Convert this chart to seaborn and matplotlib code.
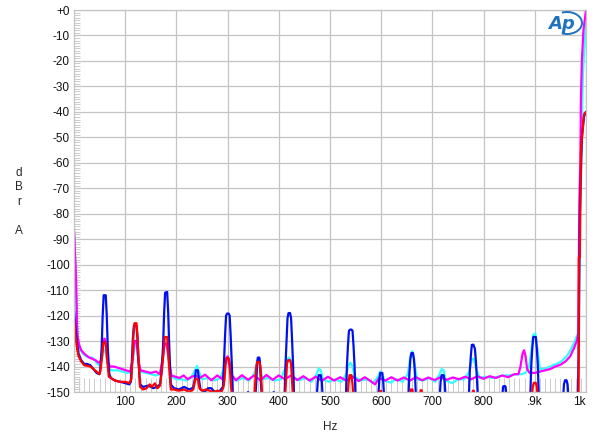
import pandas as pd
import seaborn as sns
import matplotlib.pyplot as plt
from matplotlib.patches import Arc
from matplotlib.ticker import MultipleLocator

# spectrum traces (Hz, dBr A)
blue_hz = [0, 3, 6, 9, 14, 20, 26, 32, 38, 44, 49, 51, 54, 56, 58, 62, 64, 66, 69, 72, 80, 90, 100, 108,
           111, 113, 115, 117, 122, 124, 126, 129, 135, 145, 155, 162, 168, 171, 174, 176, 178, 182, 184, 186, 189,
           195, 205, 215, 225, 231, 233, 236, 238, 242, 244, 247, 255, 262, 268, 275, 285, 291, 293, 295, 297, 299,
           302, 304, 306, 308, 310, 315, 330, 340, 345, 354, 356, 358, 359, 362, 363, 365, 367, 385, 390, 395, 411,
           413, 415, 417, 419, 422, 424, 426, 428, 430, 474, 476, 478, 482, 484, 486, 531, 533, 535, 537, 539, 542,
           544, 546, 548, 550, 594, 596, 598, 602, 604, 606, 653, 655, 657, 659, 662, 664, 666, 668, 714, 716, 718,
           722, 724, 726, 771, 773, 775, 777, 780, 783, 785, 787, 789, 836, 838, 839, 842, 843, 845, 891, 893, 895,
           897, 902, 904, 906, 908, 955, 957, 959, 962, 964, 966, 984, 986, 988, 992, 996, 1000]
blue_db = [-118, -125, -131, -135, -137.5, -139, -139, -139.5, -141, -142.5, -143, -142, -133, -120, -112, -112,
           -120, -133, -143, -144.5, -145.5, -146, -146.5, -147, -146, -138, -129, -124, -124, -129, -138, -147,
           -148, -147.5, -148.5, -148, -147, -142, -132, -119, -111, -110.7, -119, -132, -147, -148.5, -149, -148,
           -149, -148.5, -148, -145, -141.5, -141.5, -145, -149, -150, -148.5, -148.5, -150, -149.5, -148, -138,
           -128, -120, -119.2, -119.2, -120, -128, -138, -150, -153, -153, -150, -153, -153, -146, -138, -136.5,
           -136.5, -138, -146, -153, -153, -150, -153, -153, -140, -130, -121, -119, -119, -121, -130, -140, -153,
           -153, -146, -143.4, -143.4, -146, -153, -153, -140, -132, -126, -125.5, -125.5, -126, -132, -140, -153,
           -153, -146, -142.5, -142.5, -146, -153, -153, -143, -137, -134.7, -134.7, -137, -143, -153, -153, -146,
           -143.4, -143.4, -146, -153, -153, -142, -136, -131.5, -131.4, -133, -138, -145, -153, -153, -148,
           -147.7, -147.7, -148, -153, -153, -140, -133, -128.4, -128.4, -133, -140, -153, -153, -147, -145.4,
           -145.4, -147, -153, -153, -130, -80, -50, -42, -40]

red_hz = [0, 3, 6, 9, 14, 20, 26, 32, 38, 44, 50, 52, 55, 57, 58.5, 61.5, 63, 65, 68, 72, 80, 90, 100, 108, 112,
          114, 116, 118, 122, 124, 126, 129, 135, 142, 148, 152, 158, 163, 168, 172, 175, 177, 182, 184, 186, 189,
          195, 205, 215, 225, 233, 236, 238, 242, 245, 250, 258, 265, 272, 280, 288, 292, 294, 296, 298, 302, 304,
          306, 309, 352, 354, 356, 358, 362, 364, 366, 368, 412, 414, 416, 418, 422, 424, 426, 428, 534, 536, 538,
          542, 544, 546, 596, 598, 600, 602, 656, 658, 661, 663, 675, 677, 679, 681, 777, 779, 781, 783, 894, 896,
          898, 902, 904, 906, 984, 985.5, 986, 988, 989, 990, 993, 996, 1000]
red_db = [-121, -128, -133, -136, -138, -139.5, -139.7, -140, -141, -142, -143, -141, -136, -131, -130.3, -130.5,
          -133, -138, -144, -144.5, -145.5, -146, -146, -146.5, -145, -137, -128, -123, -123, -128, -137, -148,
          -149, -148.5, -147, -148, -146.6, -148.5, -147.5, -141, -134, -128.5, -128.4, -134, -141, -149, -149,
          -149.5, -149, -150, -149, -146, -144.7, -145, -148.5, -149.5, -149, -149.5, -150, -149.5, -150, -148,
          -145, -139, -136.7, -136.7, -139, -146, -153, -153, -146, -140, -138.2, -138.2, -140, -146, -153, -153,
          -146, -139, -137.5, -137.5, -139, -146, -153, -153, -147, -143.4, -143.4, -147, -153, -153, -149.6,
          -149.6, -153, -153, -149, -149, -153, -153, -149.3, -149.3, -153, -153, -149.5, -149.5, -153, -153, -148,
          -146.4, -146.4, -148, -153, -153, -150, -97, -97, -75, -56, -48, -41, -40]

cyan_hz = [0, 2, 4, 6, 8, 12, 18, 24, 30, 36, 42, 48, 52, 55, 58, 61, 64, 68, 75, 85, 95, 105, 112, 116, 119,
           122, 125, 130, 140, 150, 160, 168, 173, 177, 181, 185, 190, 200, 210, 220, 228, 235, 240, 244, 250, 262,
           274, 286, 292, 296, 300, 304, 308, 318, 330, 342, 352, 356, 360, 364, 368, 380, 392, 404, 412, 416, 420,
           424, 428, 440, 452, 464, 474, 478, 482, 486, 498, 510, 522, 532, 536, 540, 544, 548, 560, 572, 584, 594,
           598, 602, 606, 618, 630, 642, 652, 657, 661, 665, 670, 682, 694, 706, 714, 718, 722, 726, 738, 750, 762,
           772, 777, 781, 786, 792, 804, 816, 828, 840, 852, 864, 874, 882, 889, 893, 897, 901, 905, 910, 918, 930,
           942, 952, 962, 970, 978, 984, 987, 990, 994, 1000]
cyan_db = [-88, -98, -110, -125, -130, -133.5, -135, -136, -136.5, -136.5, -138, -139.5, -139, -136, -133.5,
           -133.5, -137, -141, -141.5, -141.5, -142, -142.5, -142, -136, -131, -131, -137, -142, -142.5, -143,
           -143.5, -143, -138, -131, -131, -138, -144, -145, -145, -145.5, -144.5, -142, -139.8, -142, -145,
           -144.5, -145.5, -144.5, -141, -137, -136.5, -138, -144, -145.5, -144.5, -145.5, -143, -139, -137.5,
           -140, -145, -144.5, -145.5, -145, -141, -137, -136.5, -138, -144, -145.5, -144.5, -146, -143, -140.8,
           -141.5, -145, -146, -145, -146, -143, -139.5, -138.5, -140, -144, -145.5, -145, -146.5, -144, -142,
           -142.5, -145.5, -146.3, -145, -146, -143, -136, -134, -139, -145, -145.5, -144.5, -146, -143, -141,
           -141.5, -145.5, -146.5, -145, -145, -142, -137, -137, -141, -144.5, -144, -144.5, -144, -143.5, -143.5,
           -143, -143, -142.5, -140, -134, -127.5, -127, -133, -141, -141, -140, -139, -138, -136, -133.5, -130,
           -127, -100, -60, -25, -5]

magenta_hz = [0, 1, 2, 3, 4, 5, 6, 7, 10, 14, 18, 23, 30, 36, 42, 48, 52, 55, 57, 59, 61, 63, 66, 70, 78, 86,
              94, 102, 110, 114, 118, 122, 126, 130, 140, 150, 160, 168, 173, 177, 181, 185, 190, 198, 206, 214,
              222, 230, 238, 246, 256, 268, 280, 290, 294, 297, 300, 303, 307, 316, 328, 340, 352, 364, 376, 388,
              400, 412, 424, 436, 448, 460, 472, 484, 496, 508, 520, 532, 544, 556, 568, 580, 588, 596, 608, 620,
              632, 644, 656, 668, 680, 692, 704, 716, 728, 740, 752, 764, 776, 788, 800, 812, 824, 836, 848, 860,
              868, 872, 876, 879, 882, 885, 890, 900, 910, 920, 930, 940, 950, 960, 969, 976, 982, 985, 987, 989,
              990, 992, 995, 1000]
magenta_db = [-86, -90, -96, -100, -106, -115, -124, -128, -131.5, -133.5, -134.5, -135.5, -136.5, -137, -137.5,
              -138.5, -138, -134, -130, -129, -129.5, -133, -138, -140, -140, -140.5, -141, -141.5, -142, -138,
              -130, -130, -138, -141.5, -142, -142.5, -142, -143, -137, -131, -131, -137, -143.5, -144, -144.5,
              -143.5, -145, -144, -143.5, -144.5, -143.2, -145.4, -143.5, -145, -141, -137, -136, -139, -143,
              -145.4, -143.4, -145.2, -143.5, -145.4, -143.3, -145.2, -143.5, -145, -143.5, -145.3, -143.8, -145.5,
              -144, -145.6, -144, -145.5, -144.2, -145.6, -144, -145.7, -144.2, -145.8, -147, -144.5, -145.5,
              -144.2, -145.5, -144.3, -145.5, -144.2, -145.4, -144.3, -145.3, -144.2, -145.2, -144.3, -145, -144,
              -145, -143.8, -144.8, -143.8, -144.5, -143.5, -144.2, -143, -143, -140, -135, -133.6, -136, -141,
              -142.5, -142.5, -142, -141.5, -141, -140, -139.3, -138, -136, -133, -130, -127, -75, -59, -35.5,
              -19.7, -8, 0]

x_ticks = [100, 200, 300, 400, 500, 600, 700, 800, 900, 1000]
x_labels = ["100", "200", "300", "400", "500", "600", "700", "800", ".9k", "1k"]
y_ticks = list(range(0, -151, -10))
y_labels = ["+0"] + [str(v) for v in y_ticks[1:]]

df = pd.concat([
    pd.DataFrame({"Hz": cyan_hz, "dB": cyan_db, "trace": "cyan"}),
    pd.DataFrame({"Hz": magenta_hz, "dB": magenta_db, "trace": "magenta"}),
    pd.DataFrame({"Hz": blue_hz, "dB": blue_db, "trace": "blue"}),
    pd.DataFrame({"Hz": red_hz, "dB": red_db, "trace": "red"}),
])

sns.set_style("white")
plt.rcParams["font.family"] = ["Liberation Sans", "DejaVu Sans"]

fig = plt.figure(figsize=(6, 4.36), dpi=100)
ax = fig.add_axes([74 / 600, 1 - 392 / 436, 512 / 600, 382 / 436])

sns.lineplot(data=df, x="Hz", y="dB", hue="trace",
             hue_order=["cyan", "magenta", "blue", "red"],
             palette={"cyan": "#33ffff", "magenta": "#ff00ff", "blue": "#0010ee", "red": "#ff0000"},
             linewidth=1.6, estimator=None, legend=False, ax=ax)

ax.set_xlim(0, 1000)
ax.set_ylim(-150, 0)
ax.set_axisbelow(True)
ax.set_xticks(x_ticks, x_labels)
ax.set_yticks(y_ticks, y_labels)
ax.get_xticklabels()[-1].set_ha("right")
ax.xaxis.set_minor_locator(MultipleLocator(10))
ax.yaxis.set_minor_locator(MultipleLocator(1))
ax.tick_params(bottom=True, left=True, which="both")
ax.tick_params(which="major", length=0, labelsize=8.5, pad=3, colors="#111111")
ax.tick_params(axis="x", which="minor", direction="in", length=10, width=0.7, color="#cccccc")
ax.tick_params(axis="y", which="minor", direction="in", length=4.5, width=0.7, color="#cccccc")
ax.grid(True, which="major", color="#c4c4c4", linewidth=0.9)
for s in ax.spines.values():
    s.set_color("#c4c4c4")
    s.set_linewidth(0.9)

ax.set_xlabel("Hz", fontsize=8.5, labelpad=9)
ax.set_ylabel("")
fig.text(19 / 600, 1 - 202 / 436, "d\nB\nr\n\nA", fontsize=8.5, ha="center", va="center", linespacing=1.3)

# Ap logo
fig.text(562 / 600, 1 - 24 / 436, "Ap", color="#1e73be", fontsize=13, fontstyle="italic",
         fontweight="bold", ha="center", va="center", family="DejaVu Sans")
fig.add_artist(Arc((567 / 600, 1 - 23 / 436), 30 / 600, 22 / 436, theta1=-110, theta2=110,
                   transform=fig.transFigure, color="#1e73be", lw=1.4))

fig.savefig("out.png", dpi=100)
